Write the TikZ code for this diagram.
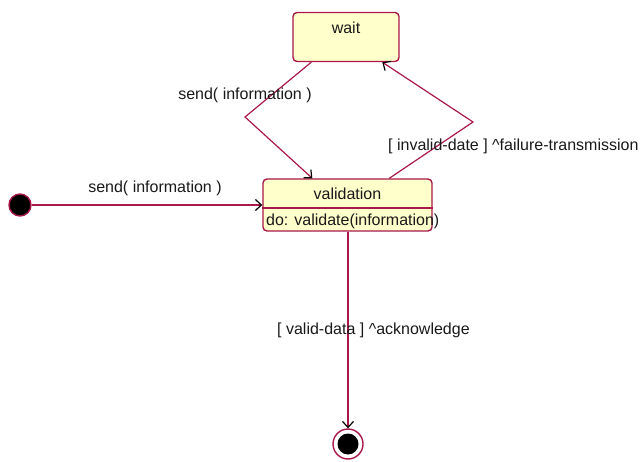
\documentclass[tikz,border=0pt]{standalone}
\usepackage{fontspec}
\setmainfont{Liberation Sans}
\usetikzlibrary{arrows.meta}
\definecolor{edge}{RGB}{168,24,72}
\definecolor{statefill}{RGB}{255,255,204}
\begin{document}
\begin{tikzpicture}[x=1bp,y=-1bp,
  lbl/.style={font=\fontsize{16bp}{19bp}\selectfont, inner sep=0pt, text=black!90},
  statebox/.style={draw=edge, fill=statefill, line width=1.4bp, rounded corners=4bp, inner sep=0pt},
  trans/.style={draw=edge, line width=1.2bp, -{Straight Barb[length=6bp,width=11bp,color=black,line width=1.2bp]}},
]
\useasboundingbox (0,0) rectangle (641,462);
% states
\node[statebox, minimum width=106bp, minimum height=49bp] (wait) at (346,37) {};
\node[lbl] (waitlbl) at (346,28) {wait};
\node[statebox, minimum width=169bp, minimum height=52bp] (val) at (347.5,205) {};
\draw[edge, line width=1.4bp] ([yshift=-3bp]val.west) -- ([yshift=-3bp]val.east);
\node[lbl] (vallbl) at (347.5,194) {validation};
\node[lbl, anchor=west] (dolbl) at (266,221) {do: validate(information)};
\node[circle, draw=edge, fill=black, line width=1.4bp, minimum size=22bp, inner sep=0pt] (init) at (20,205) {};
\node[circle, draw=edge, fill=white, line width=1.4bp, minimum size=30bp, inner sep=0pt] (fin) at (348,444) {};
\node[circle, fill=black, minimum size=21bp, inner sep=0pt] (fininner) at (fin) {};
% kinks
\coordinate (k1) at (245,117);
\coordinate (k2) at (473,122);
% transitions
\draw[trans] (init) -- (val.west);
\draw[trans] ([xshift=19bp]wait.south west) -- (k1) -- ([xshift=50bp]val.north west);
\draw[trans] ([xshift=127bp]val.north west) -- (k2) -- ([xshift=90bp]wait.south west);
\draw[trans] (val.south -| fin) -- (fin.north);
% labels
\node[lbl] (l1) at (155,188) {send( information )};
\node[lbl] (l2) at (245,95) {send( information )};
\node[lbl, anchor=west] (l3) at (388,146) {[ invalid-date ] \^{}failure-transmission};
\node[lbl, anchor=west] (l4) at (277,330) {[ valid-data ] \^{}acknowledge};
\end{tikzpicture}
\end{document}
